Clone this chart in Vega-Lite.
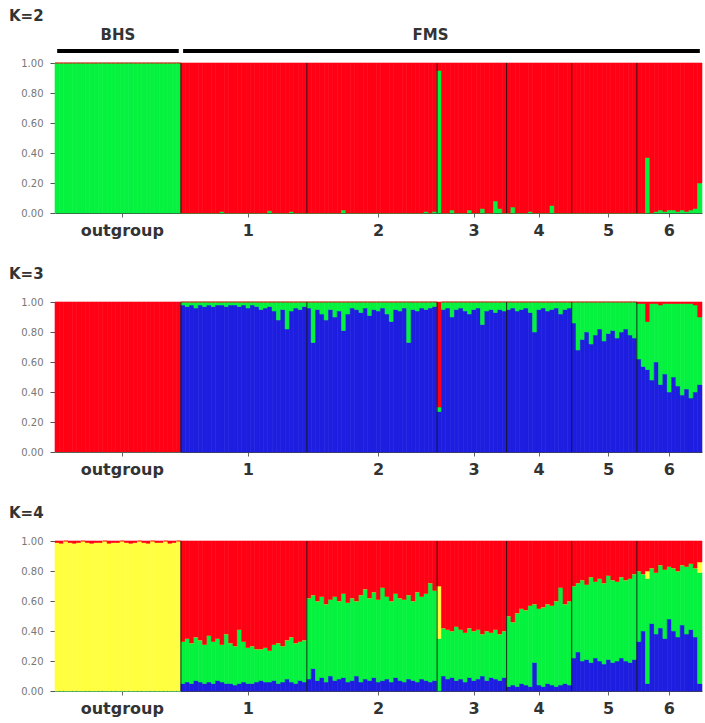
{
  "$schema": "https://vega.github.io/schema/vega-lite/v6.json",
  "background": "white",
  "padding": {"left": 9, "top": 8, "right": 2, "bottom": 1},
  "spacing": 29,
  "datasets": {
    "q": [
      {"i":1,"p":"outgroup","k2_1":1,"k2_2":0,"k3_1":0,"k3_2":0,"k3_3":1,"k4_1":0,"k4_2":0,"k4_3":0.99,"k4_4":0.01},
      {"i":2,"p":"outgroup","k2_1":1,"k2_2":0,"k3_1":0,"k3_2":0,"k3_3":1,"k4_1":0,"k4_2":0,"k4_3":0.985,"k4_4":0.015},
      {"i":3,"p":"outgroup","k2_1":1,"k2_2":0,"k3_1":0,"k3_2":0,"k3_3":1,"k4_1":0,"k4_2":0,"k4_3":1,"k4_4":0},
      {"i":4,"p":"outgroup","k2_1":1,"k2_2":0,"k3_1":0,"k3_2":0,"k3_3":1,"k4_1":0,"k4_2":0,"k4_3":0.99,"k4_4":0.01},
      {"i":5,"p":"outgroup","k2_1":1,"k2_2":0,"k3_1":0,"k3_2":0,"k3_3":1,"k4_1":0,"k4_2":0,"k4_3":0.985,"k4_4":0.015},
      {"i":6,"p":"outgroup","k2_1":1,"k2_2":0,"k3_1":0,"k3_2":0,"k3_3":1,"k4_1":0,"k4_2":0,"k4_3":0.99,"k4_4":0.01},
      {"i":7,"p":"outgroup","k2_1":1,"k2_2":0,"k3_1":0,"k3_2":0,"k3_3":1,"k4_1":0,"k4_2":0,"k4_3":1,"k4_4":0},
      {"i":8,"p":"outgroup","k2_1":1,"k2_2":0,"k3_1":0,"k3_2":0,"k3_3":1,"k4_1":0,"k4_2":0,"k4_3":0.99,"k4_4":0.01},
      {"i":9,"p":"outgroup","k2_1":1,"k2_2":0,"k3_1":0,"k3_2":0,"k3_3":1,"k4_1":0,"k4_2":0,"k4_3":0.985,"k4_4":0.015},
      {"i":10,"p":"outgroup","k2_1":1,"k2_2":0,"k3_1":0,"k3_2":0,"k3_3":1,"k4_1":0,"k4_2":0,"k4_3":0.99,"k4_4":0.01},
      {"i":11,"p":"outgroup","k2_1":1,"k2_2":0,"k3_1":0,"k3_2":0,"k3_3":1,"k4_1":0,"k4_2":0,"k4_3":0.99,"k4_4":0.01},
      {"i":12,"p":"outgroup","k2_1":1,"k2_2":0,"k3_1":0,"k3_2":0,"k3_3":1,"k4_1":0,"k4_2":0,"k4_3":1,"k4_4":0},
      {"i":13,"p":"outgroup","k2_1":1,"k2_2":0,"k3_1":0,"k3_2":0,"k3_3":1,"k4_1":0,"k4_2":0,"k4_3":0.985,"k4_4":0.015},
      {"i":14,"p":"outgroup","k2_1":1,"k2_2":0,"k3_1":0,"k3_2":0,"k3_3":1,"k4_1":0,"k4_2":0,"k4_3":0.99,"k4_4":0.01},
      {"i":15,"p":"outgroup","k2_1":1,"k2_2":0,"k3_1":0,"k3_2":0,"k3_3":1,"k4_1":0,"k4_2":0,"k4_3":0.99,"k4_4":0.01},
      {"i":16,"p":"outgroup","k2_1":1,"k2_2":0,"k3_1":0,"k3_2":0,"k3_3":1,"k4_1":0,"k4_2":0,"k4_3":1,"k4_4":0},
      {"i":17,"p":"outgroup","k2_1":1,"k2_2":0,"k3_1":0,"k3_2":0,"k3_3":1,"k4_1":0,"k4_2":0,"k4_3":0.99,"k4_4":0.01},
      {"i":18,"p":"outgroup","k2_1":1,"k2_2":0,"k3_1":0,"k3_2":0,"k3_3":1,"k4_1":0,"k4_2":0,"k4_3":0.985,"k4_4":0.015},
      {"i":19,"p":"outgroup","k2_1":1,"k2_2":0,"k3_1":0,"k3_2":0,"k3_3":1,"k4_1":0,"k4_2":0,"k4_3":0.99,"k4_4":0.01},
      {"i":20,"p":"outgroup","k2_1":1,"k2_2":0,"k3_1":0,"k3_2":0,"k3_3":1,"k4_1":0,"k4_2":0,"k4_3":1,"k4_4":0},
      {"i":21,"p":"outgroup","k2_1":1,"k2_2":0,"k3_1":0,"k3_2":0,"k3_3":1,"k4_1":0,"k4_2":0,"k4_3":0.99,"k4_4":0.01},
      {"i":22,"p":"outgroup","k2_1":1,"k2_2":0,"k3_1":0,"k3_2":0,"k3_3":1,"k4_1":0,"k4_2":0,"k4_3":0.985,"k4_4":0.015},
      {"i":23,"p":"outgroup","k2_1":1,"k2_2":0,"k3_1":0,"k3_2":0,"k3_3":1,"k4_1":0,"k4_2":0,"k4_3":1,"k4_4":0},
      {"i":24,"p":"outgroup","k2_1":1,"k2_2":0,"k3_1":0,"k3_2":0,"k3_3":1,"k4_1":0,"k4_2":0,"k4_3":0.99,"k4_4":0.01},
      {"i":25,"p":"outgroup","k2_1":1,"k2_2":0,"k3_1":0,"k3_2":0,"k3_3":1,"k4_1":0,"k4_2":0,"k4_3":0.99,"k4_4":0.01},
      {"i":26,"p":"outgroup","k2_1":1,"k2_2":0,"k3_1":0,"k3_2":0,"k3_3":1,"k4_1":0,"k4_2":0,"k4_3":1,"k4_4":0},
      {"i":27,"p":"outgroup","k2_1":1,"k2_2":0,"k3_1":0,"k3_2":0,"k3_3":1,"k4_1":0,"k4_2":0,"k4_3":0.985,"k4_4":0.015},
      {"i":28,"p":"outgroup","k2_1":1,"k2_2":0,"k3_1":0,"k3_2":0,"k3_3":1,"k4_1":0,"k4_2":0,"k4_3":0.99,"k4_4":0.01},
      {"i":29,"p":"outgroup","k2_1":1,"k2_2":0,"k3_1":0,"k3_2":0,"k3_3":1,"k4_1":0,"k4_2":0,"k4_3":1,"k4_4":0},
      {"i":30,"p":"1","k2_1":0,"k2_2":1,"k3_1":0.98,"k3_2":0.02,"k3_3":0,"k4_1":0.05,"k4_2":0.28,"k4_3":0,"k4_4":0.67},
      {"i":31,"p":"1","k2_1":0,"k2_2":1,"k3_1":0.97,"k3_2":0.03,"k3_3":0,"k4_1":0.06,"k4_2":0.29,"k4_3":0,"k4_4":0.65},
      {"i":32,"p":"1","k2_1":0,"k2_2":1,"k3_1":0.98,"k3_2":0.02,"k3_3":0,"k4_1":0.05,"k4_2":0.27,"k4_3":0,"k4_4":0.68},
      {"i":33,"p":"1","k2_1":0,"k2_2":1,"k3_1":0.96,"k3_2":0.04,"k3_3":0,"k4_1":0.07,"k4_2":0.29,"k4_3":0,"k4_4":0.64},
      {"i":34,"p":"1","k2_1":0,"k2_2":1,"k3_1":0.98,"k3_2":0.02,"k3_3":0,"k4_1":0.06,"k4_2":0.28,"k4_3":0,"k4_4":0.66},
      {"i":35,"p":"1","k2_1":0,"k2_2":1,"k3_1":0.97,"k3_2":0.03,"k3_3":0,"k4_1":0.05,"k4_2":0.26,"k4_3":0,"k4_4":0.69},
      {"i":36,"p":"1","k2_1":0,"k2_2":1,"k3_1":0.98,"k3_2":0.02,"k3_3":0,"k4_1":0.06,"k4_2":0.31,"k4_3":0,"k4_4":0.63},
      {"i":37,"p":"1","k2_1":0,"k2_2":1,"k3_1":0.97,"k3_2":0.03,"k3_3":0,"k4_1":0.05,"k4_2":0.28,"k4_3":0,"k4_4":0.67},
      {"i":38,"p":"1","k2_1":0,"k2_2":1,"k3_1":0.98,"k3_2":0.02,"k3_3":0,"k4_1":0.07,"k4_2":0.28,"k4_3":0,"k4_4":0.65},
      {"i":39,"p":"1","k2_1":0.01,"k2_2":0.99,"k3_1":0.98,"k3_2":0.02,"k3_3":0,"k4_1":0.06,"k4_2":0.25,"k4_3":0,"k4_4":0.69},
      {"i":40,"p":"1","k2_1":0,"k2_2":1,"k3_1":0.97,"k3_2":0.03,"k3_3":0,"k4_1":0.05,"k4_2":0.33,"k4_3":0,"k4_4":0.62},
      {"i":41,"p":"1","k2_1":0,"k2_2":1,"k3_1":0.98,"k3_2":0.02,"k3_3":0,"k4_1":0.05,"k4_2":0.27,"k4_3":0,"k4_4":0.68},
      {"i":42,"p":"1","k2_1":0,"k2_2":1,"k3_1":0.98,"k3_2":0.02,"k3_3":0,"k4_1":0.04,"k4_2":0.26,"k4_3":0,"k4_4":0.70},
      {"i":43,"p":"1","k2_1":0,"k2_2":1,"k3_1":0.97,"k3_2":0.03,"k3_3":0,"k4_1":0.05,"k4_2":0.36,"k4_3":0,"k4_4":0.59},
      {"i":44,"p":"1","k2_1":0,"k2_2":1,"k3_1":0.98,"k3_2":0.02,"k3_3":0,"k4_1":0.06,"k4_2":0.27,"k4_3":0,"k4_4":0.67},
      {"i":45,"p":"1","k2_1":0,"k2_2":1,"k3_1":0.96,"k3_2":0.04,"k3_3":0,"k4_1":0.05,"k4_2":0.24,"k4_3":0,"k4_4":0.71},
      {"i":46,"p":"1","k2_1":0,"k2_2":1,"k3_1":0.98,"k3_2":0.02,"k3_3":0,"k4_1":0.05,"k4_2":0.25,"k4_3":0,"k4_4":0.70},
      {"i":47,"p":"1","k2_1":0,"k2_2":1,"k3_1":0.97,"k3_2":0.03,"k3_3":0,"k4_1":0.06,"k4_2":0.22,"k4_3":0,"k4_4":0.72},
      {"i":48,"p":"1","k2_1":0,"k2_2":1,"k3_1":0.95,"k3_2":0.05,"k3_3":0,"k4_1":0.07,"k4_2":0.21,"k4_3":0,"k4_4":0.72},
      {"i":49,"p":"1","k2_1":0,"k2_2":1,"k3_1":0.96,"k3_2":0.04,"k3_3":0,"k4_1":0.06,"k4_2":0.23,"k4_3":0,"k4_4":0.71},
      {"i":50,"p":"1","k2_1":0.015,"k2_2":0.985,"k3_1":0.97,"k3_2":0.03,"k3_3":0,"k4_1":0.06,"k4_2":0.21,"k4_3":0,"k4_4":0.73},
      {"i":51,"p":"1","k2_1":0,"k2_2":1,"k3_1":0.94,"k3_2":0.06,"k3_3":0,"k4_1":0.07,"k4_2":0.24,"k4_3":0,"k4_4":0.69},
      {"i":52,"p":"1","k2_1":0,"k2_2":1,"k3_1":0.88,"k3_2":0.12,"k3_3":0,"k4_1":0.05,"k4_2":0.27,"k4_3":0,"k4_4":0.68},
      {"i":53,"p":"1","k2_1":0,"k2_2":1,"k3_1":0.95,"k3_2":0.05,"k3_3":0,"k4_1":0.06,"k4_2":0.24,"k4_3":0,"k4_4":0.70},
      {"i":54,"p":"1","k2_1":0,"k2_2":1,"k3_1":0.82,"k3_2":0.18,"k3_3":0,"k4_1":0.08,"k4_2":0.26,"k4_3":0,"k4_4":0.66},
      {"i":55,"p":"1","k2_1":0.01,"k2_2":0.99,"k3_1":0.94,"k3_2":0.06,"k3_3":0,"k4_1":0.06,"k4_2":0.30,"k4_3":0,"k4_4":0.64},
      {"i":56,"p":"1","k2_1":0,"k2_2":1,"k3_1":0.96,"k3_2":0.04,"k3_3":0,"k4_1":0.05,"k4_2":0.27,"k4_3":0,"k4_4":0.68},
      {"i":57,"p":"1","k2_1":0,"k2_2":1,"k3_1":0.95,"k3_2":0.05,"k3_3":0,"k4_1":0.07,"k4_2":0.26,"k4_3":0,"k4_4":0.67},
      {"i":58,"p":"1","k2_1":0,"k2_2":1,"k3_1":0.97,"k3_2":0.03,"k3_3":0,"k4_1":0.06,"k4_2":0.28,"k4_3":0,"k4_4":0.66},
      {"i":59,"p":"2","k2_1":0,"k2_2":1,"k3_1":0.96,"k3_2":0.04,"k3_3":0,"k4_1":0.08,"k4_2":0.54,"k4_3":0,"k4_4":0.38},
      {"i":60,"p":"2","k2_1":0,"k2_2":1,"k3_1":0.73,"k3_2":0.27,"k3_3":0,"k4_1":0.15,"k4_2":0.49,"k4_3":0,"k4_4":0.36},
      {"i":61,"p":"2","k2_1":0,"k2_2":1,"k3_1":0.95,"k3_2":0.05,"k3_3":0,"k4_1":0.07,"k4_2":0.53,"k4_3":0,"k4_4":0.40},
      {"i":62,"p":"2","k2_1":0,"k2_2":1,"k3_1":0.92,"k3_2":0.08,"k3_3":0,"k4_1":0.09,"k4_2":0.54,"k4_3":0,"k4_4":0.37},
      {"i":63,"p":"2","k2_1":0,"k2_2":1,"k3_1":0.88,"k3_2":0.12,"k3_3":0,"k4_1":0.06,"k4_2":0.52,"k4_3":0,"k4_4":0.42},
      {"i":64,"p":"2","k2_1":0,"k2_2":1,"k3_1":0.95,"k3_2":0.05,"k3_3":0,"k4_1":0.10,"k4_2":0.51,"k4_3":0,"k4_4":0.39},
      {"i":65,"p":"2","k2_1":0,"k2_2":1,"k3_1":0.90,"k3_2":0.10,"k3_3":0,"k4_1":0.07,"k4_2":0.56,"k4_3":0,"k4_4":0.37},
      {"i":66,"p":"2","k2_1":0,"k2_2":1,"k3_1":0.94,"k3_2":0.06,"k3_3":0,"k4_1":0.08,"k4_2":0.52,"k4_3":0,"k4_4":0.40},
      {"i":67,"p":"2","k2_1":0.02,"k2_2":0.98,"k3_1":0.81,"k3_2":0.19,"k3_3":0,"k4_1":0.09,"k4_2":0.56,"k4_3":0,"k4_4":0.35},
      {"i":68,"p":"2","k2_1":0,"k2_2":1,"k3_1":0.92,"k3_2":0.08,"k3_3":0,"k4_1":0.06,"k4_2":0.53,"k4_3":0,"k4_4":0.41},
      {"i":69,"p":"2","k2_1":0,"k2_2":1,"k3_1":0.96,"k3_2":0.04,"k3_3":0,"k4_1":0.07,"k4_2":0.55,"k4_3":0,"k4_4":0.38},
      {"i":70,"p":"2","k2_1":0,"k2_2":1,"k3_1":0.95,"k3_2":0.05,"k3_3":0,"k4_1":0.10,"k4_2":0.50,"k4_3":0,"k4_4":0.40},
      {"i":71,"p":"2","k2_1":0,"k2_2":1,"k3_1":0.93,"k3_2":0.07,"k3_3":0,"k4_1":0.06,"k4_2":0.58,"k4_3":0,"k4_4":0.36},
      {"i":72,"p":"2","k2_1":0,"k2_2":1,"k3_1":0.96,"k3_2":0.04,"k3_3":0,"k4_1":0.08,"k4_2":0.60,"k4_3":0,"k4_4":0.32},
      {"i":73,"p":"2","k2_1":0,"k2_2":1,"k3_1":0.91,"k3_2":0.09,"k3_3":0,"k4_1":0.07,"k4_2":0.55,"k4_3":0,"k4_4":0.38},
      {"i":74,"p":"2","k2_1":0,"k2_2":1,"k3_1":0.95,"k3_2":0.05,"k3_3":0,"k4_1":0.09,"k4_2":0.57,"k4_3":0,"k4_4":0.34},
      {"i":75,"p":"2","k2_1":0,"k2_2":1,"k3_1":0.94,"k3_2":0.06,"k3_3":0,"k4_1":0.06,"k4_2":0.55,"k4_3":0,"k4_4":0.39},
      {"i":76,"p":"2","k2_1":0,"k2_2":1,"k3_1":0.96,"k3_2":0.04,"k3_3":0,"k4_1":0.07,"k4_2":0.62,"k4_3":0,"k4_4":0.31},
      {"i":77,"p":"2","k2_1":0,"k2_2":1,"k3_1":0.92,"k3_2":0.08,"k3_3":0,"k4_1":0.08,"k4_2":0.55,"k4_3":0,"k4_4":0.37},
      {"i":78,"p":"2","k2_1":0,"k2_2":1,"k3_1":0.87,"k3_2":0.13,"k3_3":0,"k4_1":0.06,"k4_2":0.54,"k4_3":0,"k4_4":0.40},
      {"i":79,"p":"2","k2_1":0,"k2_2":1,"k3_1":0.95,"k3_2":0.05,"k3_3":0,"k4_1":0.09,"k4_2":0.56,"k4_3":0,"k4_4":0.35},
      {"i":80,"p":"2","k2_1":0,"k2_2":1,"k3_1":0.94,"k3_2":0.06,"k3_3":0,"k4_1":0.07,"k4_2":0.55,"k4_3":0,"k4_4":0.38},
      {"i":81,"p":"2","k2_1":0,"k2_2":1,"k3_1":0.96,"k3_2":0.04,"k3_3":0,"k4_1":0.06,"k4_2":0.55,"k4_3":0,"k4_4":0.39},
      {"i":82,"p":"2","k2_1":0,"k2_2":1,"k3_1":0.73,"k3_2":0.27,"k3_3":0,"k4_1":0.08,"k4_2":0.56,"k4_3":0,"k4_4":0.36},
      {"i":83,"p":"2","k2_1":0,"k2_2":1,"k3_1":0.95,"k3_2":0.05,"k3_3":0,"k4_1":0.07,"k4_2":0.53,"k4_3":0,"k4_4":0.40},
      {"i":84,"p":"2","k2_1":0,"k2_2":1,"k3_1":0.94,"k3_2":0.06,"k3_3":0,"k4_1":0.06,"k4_2":0.60,"k4_3":0,"k4_4":0.34},
      {"i":85,"p":"2","k2_1":0,"k2_2":1,"k3_1":0.96,"k3_2":0.04,"k3_3":0,"k4_1":0.08,"k4_2":0.55,"k4_3":0,"k4_4":0.37},
      {"i":86,"p":"2","k2_1":0.01,"k2_2":0.99,"k3_1":0.95,"k3_2":0.05,"k3_3":0,"k4_1":0.07,"k4_2":0.58,"k4_3":0,"k4_4":0.35},
      {"i":87,"p":"2","k2_1":0,"k2_2":1,"k3_1":0.96,"k3_2":0.04,"k3_3":0,"k4_1":0.06,"k4_2":0.66,"k4_3":0,"k4_4":0.28},
      {"i":88,"p":"2","k2_1":0.01,"k2_2":0.99,"k3_1":0.97,"k3_2":0.03,"k3_3":0,"k4_1":0.07,"k4_2":0.60,"k4_3":0,"k4_4":0.33},
      {"i":89,"p":"3","k2_1":0.95,"k2_2":0.05,"k3_1":0.27,"k3_2":0.03,"k3_3":0.70,"k4_1":0,"k4_2":0.35,"k4_3":0.35,"k4_4":0.30},
      {"i":90,"p":"3","k2_1":0,"k2_2":1,"k3_1":0.95,"k3_2":0.05,"k3_3":0,"k4_1":0.10,"k4_2":0.32,"k4_3":0,"k4_4":0.58},
      {"i":91,"p":"3","k2_1":0,"k2_2":1,"k3_1":0.96,"k3_2":0.04,"k3_3":0,"k4_1":0.08,"k4_2":0.33,"k4_3":0,"k4_4":0.59},
      {"i":92,"p":"3","k2_1":0.02,"k2_2":0.98,"k3_1":0.90,"k3_2":0.10,"k3_3":0,"k4_1":0.09,"k4_2":0.31,"k4_3":0,"k4_4":0.60},
      {"i":93,"p":"3","k2_1":0,"k2_2":1,"k3_1":0.95,"k3_2":0.05,"k3_3":0,"k4_1":0.07,"k4_2":0.36,"k4_3":0,"k4_4":0.57},
      {"i":94,"p":"3","k2_1":0,"k2_2":1,"k3_1":0.96,"k3_2":0.04,"k3_3":0,"k4_1":0.08,"k4_2":0.33,"k4_3":0,"k4_4":0.59},
      {"i":95,"p":"3","k2_1":0,"k2_2":1,"k3_1":0.94,"k3_2":0.06,"k3_3":0,"k4_1":0.06,"k4_2":0.33,"k4_3":0,"k4_4":0.61},
      {"i":96,"p":"3","k2_1":0.02,"k2_2":0.98,"k3_1":0.92,"k3_2":0.08,"k3_3":0,"k4_1":0.09,"k4_2":0.33,"k4_3":0,"k4_4":0.58},
      {"i":97,"p":"3","k2_1":0,"k2_2":1,"k3_1":0.95,"k3_2":0.05,"k3_3":0,"k4_1":0.07,"k4_2":0.33,"k4_3":0,"k4_4":0.60},
      {"i":98,"p":"3","k2_1":0,"k2_2":1,"k3_1":0.96,"k3_2":0.04,"k3_3":0,"k4_1":0.08,"k4_2":0.33,"k4_3":0,"k4_4":0.59},
      {"i":99,"p":"3","k2_1":0.03,"k2_2":0.97,"k3_1":0.85,"k3_2":0.15,"k3_3":0,"k4_1":0.10,"k4_2":0.28,"k4_3":0,"k4_4":0.62},
      {"i":100,"p":"3","k2_1":0,"k2_2":1,"k3_1":0.94,"k3_2":0.06,"k3_3":0,"k4_1":0.07,"k4_2":0.33,"k4_3":0,"k4_4":0.60},
      {"i":101,"p":"3","k2_1":0,"k2_2":1,"k3_1":0.95,"k3_2":0.05,"k3_3":0,"k4_1":0.09,"k4_2":0.30,"k4_3":0,"k4_4":0.61},
      {"i":102,"p":"3","k2_1":0.08,"k2_2":0.92,"k3_1":0.93,"k3_2":0.07,"k3_3":0,"k4_1":0.08,"k4_2":0.33,"k4_3":0,"k4_4":0.59},
      {"i":103,"p":"3","k2_1":0.03,"k2_2":0.97,"k3_1":0.95,"k3_2":0.05,"k3_3":0,"k4_1":0.07,"k4_2":0.31,"k4_3":0,"k4_4":0.62},
      {"i":104,"p":"3","k2_1":0,"k2_2":1,"k3_1":0.94,"k3_2":0.06,"k3_3":0,"k4_1":0.09,"k4_2":0.31,"k4_3":0,"k4_4":0.60},
      {"i":105,"p":"4","k2_1":0,"k2_2":1,"k3_1":0.95,"k3_2":0.05,"k3_3":0,"k4_1":0.03,"k4_2":0.47,"k4_3":0,"k4_4":0.50},
      {"i":106,"p":"4","k2_1":0.04,"k2_2":0.96,"k3_1":0.96,"k3_2":0.04,"k3_3":0,"k4_1":0.04,"k4_2":0.42,"k4_3":0,"k4_4":0.54},
      {"i":107,"p":"4","k2_1":0,"k2_2":1,"k3_1":0.94,"k3_2":0.06,"k3_3":0,"k4_1":0.03,"k4_2":0.49,"k4_3":0,"k4_4":0.48},
      {"i":108,"p":"4","k2_1":0,"k2_2":1,"k3_1":0.95,"k3_2":0.05,"k3_3":0,"k4_1":0.05,"k4_2":0.50,"k4_3":0,"k4_4":0.45},
      {"i":109,"p":"4","k2_1":0,"k2_2":1,"k3_1":0.96,"k3_2":0.04,"k3_3":0,"k4_1":0.04,"k4_2":0.50,"k4_3":0,"k4_4":0.46},
      {"i":110,"p":"4","k2_1":0.01,"k2_2":0.99,"k3_1":0.93,"k3_2":0.07,"k3_3":0,"k4_1":0.03,"k4_2":0.54,"k4_3":0,"k4_4":0.43},
      {"i":111,"p":"4","k2_1":0,"k2_2":1,"k3_1":0.80,"k3_2":0.20,"k3_3":0,"k4_1":0.19,"k4_2":0.39,"k4_3":0,"k4_4":0.42},
      {"i":112,"p":"4","k2_1":0,"k2_2":1,"k3_1":0.95,"k3_2":0.05,"k3_3":0,"k4_1":0.04,"k4_2":0.51,"k4_3":0,"k4_4":0.45},
      {"i":113,"p":"4","k2_1":0,"k2_2":1,"k3_1":0.96,"k3_2":0.04,"k3_3":0,"k4_1":0.03,"k4_2":0.53,"k4_3":0,"k4_4":0.44},
      {"i":114,"p":"4","k2_1":0,"k2_2":1,"k3_1":0.94,"k3_2":0.06,"k3_3":0,"k4_1":0.05,"k4_2":0.53,"k4_3":0,"k4_4":0.42},
      {"i":115,"p":"4","k2_1":0.05,"k2_2":0.95,"k3_1":0.95,"k3_2":0.05,"k3_3":0,"k4_1":0.04,"k4_2":0.53,"k4_3":0,"k4_4":0.43},
      {"i":116,"p":"4","k2_1":0,"k2_2":1,"k3_1":0.96,"k3_2":0.04,"k3_3":0,"k4_1":0.03,"k4_2":0.57,"k4_3":0,"k4_4":0.40},
      {"i":117,"p":"4","k2_1":0,"k2_2":1,"k3_1":0.92,"k3_2":0.08,"k3_3":0,"k4_1":0.04,"k4_2":0.65,"k4_3":0,"k4_4":0.31},
      {"i":118,"p":"4","k2_1":0,"k2_2":1,"k3_1":0.95,"k3_2":0.05,"k3_3":0,"k4_1":0.05,"k4_2":0.53,"k4_3":0,"k4_4":0.42},
      {"i":119,"p":"4","k2_1":0,"k2_2":1,"k3_1":0.96,"k3_2":0.04,"k3_3":0,"k4_1":0.04,"k4_2":0.56,"k4_3":0,"k4_4":0.40},
      {"i":120,"p":"5","k2_1":0,"k2_2":1,"k3_1":0.86,"k3_2":0.14,"k3_3":0,"k4_1":0.22,"k4_2":0.48,"k4_3":0,"k4_4":0.30},
      {"i":121,"p":"5","k2_1":0,"k2_2":1,"k3_1":0.68,"k3_2":0.32,"k3_3":0,"k4_1":0.26,"k4_2":0.46,"k4_3":0,"k4_4":0.28},
      {"i":122,"p":"5","k2_1":0,"k2_2":1,"k3_1":0.75,"k3_2":0.25,"k3_3":0,"k4_1":0.20,"k4_2":0.54,"k4_3":0,"k4_4":0.26},
      {"i":123,"p":"5","k2_1":0,"k2_2":1,"k3_1":0.80,"k3_2":0.20,"k3_3":0,"k4_1":0.21,"k4_2":0.50,"k4_3":0,"k4_4":0.29},
      {"i":124,"p":"5","k2_1":0,"k2_2":1,"k3_1":0.72,"k3_2":0.28,"k3_3":0,"k4_1":0.19,"k4_2":0.57,"k4_3":0,"k4_4":0.24},
      {"i":125,"p":"5","k2_1":0,"k2_2":1,"k3_1":0.78,"k3_2":0.22,"k3_3":0,"k4_1":0.22,"k4_2":0.51,"k4_3":0,"k4_4":0.27},
      {"i":126,"p":"5","k2_1":0,"k2_2":1,"k3_1":0.82,"k3_2":0.18,"k3_3":0,"k4_1":0.20,"k4_2":0.55,"k4_3":0,"k4_4":0.25},
      {"i":127,"p":"5","k2_1":0,"k2_2":1,"k3_1":0.74,"k3_2":0.26,"k3_3":0,"k4_1":0.18,"k4_2":0.54,"k4_3":0,"k4_4":0.28},
      {"i":128,"p":"5","k2_1":0,"k2_2":1,"k3_1":0.79,"k3_2":0.21,"k3_3":0,"k4_1":0.21,"k4_2":0.56,"k4_3":0,"k4_4":0.23},
      {"i":129,"p":"5","k2_1":0,"k2_2":1,"k3_1":0.81,"k3_2":0.19,"k3_3":0,"k4_1":0.19,"k4_2":0.55,"k4_3":0,"k4_4":0.26},
      {"i":130,"p":"5","k2_1":0,"k2_2":1,"k3_1":0.76,"k3_2":0.24,"k3_3":0,"k4_1":0.20,"k4_2":0.53,"k4_3":0,"k4_4":0.27},
      {"i":131,"p":"5","k2_1":0,"k2_2":1,"k3_1":0.80,"k3_2":0.20,"k3_3":0,"k4_1":0.22,"k4_2":0.54,"k4_3":0,"k4_4":0.24},
      {"i":132,"p":"5","k2_1":0,"k2_2":1,"k3_1":0.82,"k3_2":0.18,"k3_3":0,"k4_1":0.20,"k4_2":0.54,"k4_3":0,"k4_4":0.26},
      {"i":133,"p":"5","k2_1":0,"k2_2":1,"k3_1":0.78,"k3_2":0.22,"k3_3":0,"k4_1":0.19,"k4_2":0.56,"k4_3":0,"k4_4":0.25},
      {"i":134,"p":"5","k2_1":0,"k2_2":1,"k3_1":0.76,"k3_2":0.24,"k3_3":0,"k4_1":0.21,"k4_2":0.57,"k4_3":0,"k4_4":0.22},
      {"i":135,"p":"6","k2_1":0,"k2_2":1,"k3_1":0.62,"k3_2":0.37,"k3_3":0.01,"k4_1":0.33,"k4_2":0.47,"k4_3":0,"k4_4":0.20},
      {"i":136,"p":"6","k2_1":0,"k2_2":1,"k3_1":0.57,"k3_2":0.42,"k3_3":0.01,"k4_1":0.40,"k4_2":0.38,"k4_3":0,"k4_4":0.22},
      {"i":137,"p":"6","k2_1":0.37,"k2_2":0.63,"k3_1":0.55,"k3_2":0.32,"k3_3":0.13,"k4_1":0.05,"k4_2":0.70,"k4_3":0.05,"k4_4":0.20},
      {"i":138,"p":"6","k2_1":0,"k2_2":1,"k3_1":0.48,"k3_2":0.51,"k3_3":0.01,"k4_1":0.45,"k4_2":0.37,"k4_3":0,"k4_4":0.18},
      {"i":139,"p":"6","k2_1":0.01,"k2_2":0.99,"k3_1":0.60,"k3_2":0.39,"k3_3":0.01,"k4_1":0.38,"k4_2":0.41,"k4_3":0,"k4_4":0.21},
      {"i":140,"p":"6","k2_1":0.02,"k2_2":0.98,"k3_1":0.45,"k3_2":0.53,"k3_3":0.02,"k4_1":0.42,"k4_2":0.42,"k4_3":0,"k4_4":0.16},
      {"i":141,"p":"6","k2_1":0.01,"k2_2":0.99,"k3_1":0.52,"k3_2":0.47,"k3_3":0.01,"k4_1":0.35,"k4_2":0.46,"k4_3":0,"k4_4":0.19},
      {"i":142,"p":"6","k2_1":0.02,"k2_2":0.98,"k3_1":0.40,"k3_2":0.59,"k3_3":0.01,"k4_1":0.48,"k4_2":0.35,"k4_3":0,"k4_4":0.17},
      {"i":143,"p":"6","k2_1":0.02,"k2_2":0.98,"k3_1":0.50,"k3_2":0.49,"k3_3":0.01,"k4_1":0.40,"k4_2":0.42,"k4_3":0,"k4_4":0.18},
      {"i":144,"p":"6","k2_1":0.01,"k2_2":0.99,"k3_1":0.44,"k3_2":0.55,"k3_3":0.01,"k4_1":0.36,"k4_2":0.44,"k4_3":0,"k4_4":0.20},
      {"i":145,"p":"6","k2_1":0.02,"k2_2":0.98,"k3_1":0.38,"k3_2":0.61,"k3_3":0.01,"k4_1":0.44,"k4_2":0.40,"k4_3":0,"k4_4":0.16},
      {"i":146,"p":"6","k2_1":0.01,"k2_2":0.99,"k3_1":0.42,"k3_2":0.57,"k3_3":0.01,"k4_1":0.38,"k4_2":0.45,"k4_3":0,"k4_4":0.17},
      {"i":147,"p":"6","k2_1":0.02,"k2_2":0.98,"k3_1":0.36,"k3_2":0.63,"k3_3":0.01,"k4_1":0.41,"k4_2":0.44,"k4_3":0,"k4_4":0.15},
      {"i":148,"p":"6","k2_1":0.03,"k2_2":0.97,"k3_1":0.40,"k3_2":0.58,"k3_3":0.02,"k4_1":0.36,"k4_2":0.46,"k4_3":0,"k4_4":0.18},
      {"i":149,"p":"6","k2_1":0.20,"k2_2":0.80,"k3_1":0.45,"k3_2":0.45,"k3_3":0.10,"k4_1":0.05,"k4_2":0.74,"k4_3":0.07,"k4_4":0.14}
    ],
    "bounds": [{"i":30},{"i":59},{"i":89},{"i":105},{"i":120},{"i":135}],
    "groups": [{"g":"BHS","from":1,"to":29,"mid":15},{"g":"FMS","from":30,"to":149,"mid":87}]
  },
  "vconcat": [
    {
      "width": 647, "height": 150,
      "title": {"text": "K=2", "offset": 4},
      "layer": [
        {
          "data": {"name": "q"},
          "transform": [{"fold": ["k2_1","k2_2"], "as": ["cl","v"]}],
          "mark": {"type": "bar", "strokeWidth": 0.6},
          "encoding": {
            "x": {"field": "i", "type": "ordinal", "scale": {"paddingInner": 0, "paddingOuter": 0},
                  "axis": {"values": [16,45,75,97,112,128,142], "labelExpr": "datum.value==16?'outgroup':datum.value==45?'1':datum.value==75?'2':datum.value==97?'3':datum.value==112?'4':datum.value==128?'5':'6'", "title": null}},
            "y": {"field": "v", "type": "quantitative", "stack": "zero", "scale": {"domain": [0,1]},
                  "axis": {"values": [0,0.2,0.4,0.6,0.8,1], "labelExpr": "format(datum.value, '.2f')", "title": null}},
            "color": {"field": "cl", "type": "nominal", "legend": null,
                      "scale": {"domain": ["k2_1","k2_2","k3_1","k3_2","k3_3","k4_1","k4_2","k4_3","k4_4"], "range": ["#05F23F","#FF0014","#1E1EE0","#05F23F","#FF0014","#1E1EE0","#05F23F","#FFFF40","#FF0014"]}},
            "stroke": {"field": "cl", "type": "nominal", "legend": null,
                      "scale": {"domain": ["k2_1","k2_2","k3_1","k3_2","k3_3","k4_1","k4_2","k4_3","k4_4"], "range": ["#05F23F","#FF0014","#1E1EE0","#05F23F","#FF0014","#1E1EE0","#05F23F","#FFFF40","#FF0014"]}},
            "order": {"field": "cl", "type": "ordinal"}
          }
        },
        {
          "data": {"name": "bounds"},
          "mark": {"type": "rule", "color": "#111", "strokeWidth": 1, "opacity": 0.85},
          "encoding": {"x": {"field": "i", "type": "ordinal", "bandPosition": 0}}
        },
        {
          "data": {"name": "groups"},
          "mark": {"type": "rule", "color": "black", "strokeWidth": 4},
          "encoding": {
            "x": {"field": "from", "type": "ordinal"}, "x2": {"field": "to"},
            "y": {"datum": 1.08, "type": "quantitative", "axis": {"values": [0,0.2,0.4,0.6,0.8,1], "labelExpr": "format(datum.value, '.2f')", "title": null}}
          }
        },
        {
          "data": {"name": "groups"},
          "mark": {"type": "text", "fontSize": 15, "fontWeight": "bold", "color": "#333", "baseline": "middle", "font": "DejaVu Sans"},
          "encoding": {
            "x": {"field": "mid", "type": "ordinal"},
            "y": {"datum": 1.19, "type": "quantitative", "axis": {"values": [0,0.2,0.4,0.6,0.8,1], "labelExpr": "format(datum.value, '.2f')", "title": null}},
            "text": {"field": "g"}
          }
        }
      ]
    },
    {
      "width": 647, "height": 150,
      "title": {"text": "K=3", "offset": 15},
      "layer": [
        {
          "data": {"name": "q"},
          "transform": [{"fold": ["k3_1","k3_2","k3_3"], "as": ["cl","v"]}],
          "mark": {"type": "bar", "strokeWidth": 0.6},
          "encoding": {
            "x": {"field": "i", "type": "ordinal", "scale": {"paddingInner": 0, "paddingOuter": 0},
                  "axis": {"values": [16,45,75,97,112,128,142], "labelExpr": "datum.value==16?'outgroup':datum.value==45?'1':datum.value==75?'2':datum.value==97?'3':datum.value==112?'4':datum.value==128?'5':'6'", "title": null}},
            "y": {"field": "v", "type": "quantitative", "stack": "zero", "scale": {"domain": [0,1]},
                  "axis": {"values": [0,0.2,0.4,0.6,0.8,1], "labelExpr": "format(datum.value, '.2f')", "title": null}},
            "color": {"field": "cl", "type": "nominal", "legend": null,
                      "scale": {"domain": ["k2_1","k2_2","k3_1","k3_2","k3_3","k4_1","k4_2","k4_3","k4_4"], "range": ["#05F23F","#FF0014","#1E1EE0","#05F23F","#FF0014","#1E1EE0","#05F23F","#FFFF40","#FF0014"]}},
            "stroke": {"field": "cl", "type": "nominal", "legend": null,
                      "scale": {"domain": ["k2_1","k2_2","k3_1","k3_2","k3_3","k4_1","k4_2","k4_3","k4_4"], "range": ["#05F23F","#FF0014","#1E1EE0","#05F23F","#FF0014","#1E1EE0","#05F23F","#FFFF40","#FF0014"]}},
            "order": {"field": "cl", "type": "ordinal"}
          }
        },
        {
          "data": {"name": "bounds"},
          "mark": {"type": "rule", "color": "#111", "strokeWidth": 1, "opacity": 0.85},
          "encoding": {"x": {"field": "i", "type": "ordinal", "bandPosition": 0}}
        }
      ]
    },
    {
      "width": 647, "height": 150,
      "title": {"text": "K=4", "offset": 15},
      "layer": [
        {
          "data": {"name": "q"},
          "transform": [{"fold": ["k4_1","k4_2","k4_3","k4_4"], "as": ["cl","v"]}],
          "mark": {"type": "bar", "strokeWidth": 0.6},
          "encoding": {
            "x": {"field": "i", "type": "ordinal", "scale": {"paddingInner": 0, "paddingOuter": 0},
                  "axis": {"values": [16,45,75,97,112,128,142], "labelExpr": "datum.value==16?'outgroup':datum.value==45?'1':datum.value==75?'2':datum.value==97?'3':datum.value==112?'4':datum.value==128?'5':'6'", "title": null}},
            "y": {"field": "v", "type": "quantitative", "stack": "zero", "scale": {"domain": [0,1]},
                  "axis": {"values": [0,0.2,0.4,0.6,0.8,1], "labelExpr": "format(datum.value, '.2f')", "title": null}},
            "color": {"field": "cl", "type": "nominal", "legend": null,
                      "scale": {"domain": ["k2_1","k2_2","k3_1","k3_2","k3_3","k4_1","k4_2","k4_3","k4_4"], "range": ["#05F23F","#FF0014","#1E1EE0","#05F23F","#FF0014","#1E1EE0","#05F23F","#FFFF40","#FF0014"]}},
            "stroke": {"field": "cl", "type": "nominal", "legend": null,
                      "scale": {"domain": ["k2_1","k2_2","k3_1","k3_2","k3_3","k4_1","k4_2","k4_3","k4_4"], "range": ["#05F23F","#FF0014","#1E1EE0","#05F23F","#FF0014","#1E1EE0","#05F23F","#FFFF40","#FF0014"]}},
            "order": {"field": "cl", "type": "ordinal"}
          }
        },
        {
          "data": {"name": "bounds"},
          "mark": {"type": "rule", "color": "#111", "strokeWidth": 1, "opacity": 0.85},
          "encoding": {"x": {"field": "i", "type": "ordinal", "bandPosition": 0}}
        }
      ]
    }
  ],
  "config": {
    "view": {"stroke": null},
    "font": "DejaVu Sans",
    "title": {"anchor": "start", "frame": "bounds", "fontSize": 15, "fontWeight": "bold", "color": "#333", "font": "DejaVu Sans", "dx": -8},
    "axisX": {"labelAngle": 0, "labelFontSize": 16, "labelFontWeight": "bold", "labelColor": "#333", "labelFont": "DejaVu Sans", "tickSize": 4, "tickColor": "#666", "domainColor": "#444", "labelPadding": 5, "grid": false},
    "axisY": {"labelFontSize": 10, "labelColor": "#777", "labelFont": "DejaVu Sans", "tickSize": 5, "tickColor": "#555", "domainColor": "#777", "labelPadding": 7, "grid": false, "minExtent": 38, "maxExtent": 38}
  }
}
